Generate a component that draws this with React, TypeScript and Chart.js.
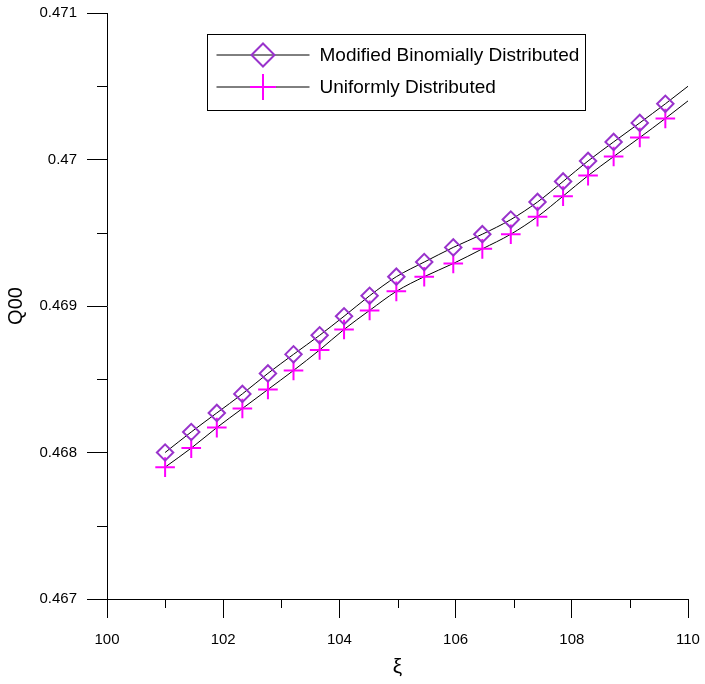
import React, { useEffect, useRef } from 'react';
import { Chart, registerables } from 'chart.js';

Chart.register(...registerables);

// ---- data ----
const xValues = [101.0, 101.45, 101.89, 102.33, 102.77, 103.21, 103.66, 104.08, 104.52, 104.98, 105.46, 105.96, 106.46, 106.95, 107.41, 107.85, 108.28, 108.72, 109.17, 109.61];
const modifiedBinomial = [0.468, 0.46814, 0.46827, 0.4684, 0.46854, 0.46867, 0.4688, 0.46893, 0.46907, 0.4692, 0.4693, 0.4694, 0.46949, 0.46959, 0.46971, 0.46985, 0.46999, 0.47012, 0.47025, 0.47038];
const uniform = [0.4679, 0.46803, 0.46817, 0.4683, 0.46843, 0.46856, 0.4687, 0.46884, 0.46897, 0.4691, 0.4692, 0.46929, 0.46939, 0.46949, 0.46961, 0.46975, 0.46989, 0.47002, 0.47015, 0.47028];
const xEnd = 110;
const modifiedEnd = 0.4705;
const uniformEnd = 0.4704;
const seriesLabels = ['Modified Binomially Distributed', 'Uniformly Distributed'];

const xMajorTicks = [100, 102, 104, 106, 108, 110];
const xMinorTicks = [101, 103, 105, 107, 109];
const yMajorTicks = [0.467, 0.468, 0.469, 0.47, 0.471];
const yMinorTicks = [0.4675, 0.4685, 0.4695, 0.4705];
const yTickLabels = ['0.467', '0.468', '0.469', '0.47', '0.471'];
const xTitle = 'ξ';
const yTitle = 'Q00';

// ---- styles ----
const FONT = '"Liberation Sans", Arial, sans-serif';
const DIAMOND_COLOR = '#9933CC';
const CROSS_COLOR = '#FF00FF';

const buildSeries = (ys: number[], end: number) =>
  xValues.map((x, i) => ({ x, y: ys[i] })).concat([{ x: xEnd, y: end }]);

const markerRadius = (r: number) => (ctx: any) => (ctx.dataIndex < xValues.length ? r : 0);

const zeroPadding = (s: any) => {
  s.paddingLeft = 0;
  s.paddingRight = 0;
  s.paddingTop = 0;
  s.paddingBottom = 0;
};

const overlayPlugin = {
  id: 'overlay',
  afterDraw(chart: any) {
    const ctx = chart.ctx as CanvasRenderingContext2D;
    const xs = chart.scales.x;
    const ys = chart.scales.y;
    ctx.save();
    // minor ticks
    ctx.strokeStyle = '#000';
    ctx.lineWidth = 1;
    ctx.beginPath();
    xMinorTicks.forEach((v) => {
      const px = Math.round(xs.getPixelForValue(v)) + 0.5;
      ctx.moveTo(px, xs.top);
      ctx.lineTo(px, xs.top + 9);
    });
    yMinorTicks.forEach((v) => {
      const py = Math.round(ys.getPixelForValue(v)) + 0.5;
      ctx.moveTo(ys.right, py);
      ctx.lineTo(ys.right - 10, py);
    });
    ctx.stroke();

    // legend
    const bl = 207.5;
    const bt = 34.5;
    const bw = 378;
    const bh = 76;
    ctx.strokeStyle = '#000';
    ctx.lineWidth = 1;
    ctx.strokeRect(bl, bt, bw, bh);
    const rows = [bt + 20.5, bt + 52.5];
    const lx0 = bl + 9;
    const lx1 = bl + 102;
    const mx = bl + 55.5;
    rows.forEach((ry, i) => {
      ctx.strokeStyle = '#000';
      ctx.lineWidth = 1;
      ctx.beginPath();
      ctx.moveTo(lx0, ry);
      ctx.lineTo(lx1, ry);
      ctx.stroke();
      ctx.lineWidth = 2;
      ctx.beginPath();
      if (i === 0) {
        const r = 11.5;
        ctx.strokeStyle = DIAMOND_COLOR;
        ctx.moveTo(mx - r, ry);
        ctx.lineTo(mx, ry - r);
        ctx.lineTo(mx + r, ry);
        ctx.lineTo(mx, ry + r);
        ctx.closePath();
      } else {
        const r = 13;
        ctx.strokeStyle = CROSS_COLOR;
        ctx.moveTo(mx - r, ry);
        ctx.lineTo(mx + r, ry);
        ctx.moveTo(mx, ry - r);
        ctx.lineTo(mx, ry + r);
      }
      ctx.stroke();
      ctx.fillStyle = '#000';
      ctx.font = `19px ${FONT}`;
      ctx.textBaseline = 'middle';
      ctx.textAlign = 'left';
      ctx.fillText(seriesLabels[i], bl + 112, ry + 1);
    });
    ctx.restore();
  },
};

export default function App() {
  const canvasRef = useRef<HTMLCanvasElement | null>(null);

  useEffect(() => {
    if (!canvasRef.current) return;
    Chart.defaults.font.family = FONT;
    const chart = new Chart(canvasRef.current, {
      type: 'line',
      data: {
        datasets: [
          {
            label: seriesLabels[0],
            data: buildSeries(modifiedBinomial, modifiedEnd),
            borderColor: '#000',
            borderWidth: 1,
            cubicInterpolationMode: 'monotone',
            pointStyle: 'rectRot',
            pointRadius: markerRadius(8.2),
            pointBorderColor: DIAMOND_COLOR,
            pointBackgroundColor: 'rgba(0,0,0,0)',
            pointBorderWidth: 2,
            fill: false,
          },
          {
            label: seriesLabels[1],
            data: buildSeries(uniform, uniformEnd),
            borderColor: '#000',
            borderWidth: 1,
            cubicInterpolationMode: 'monotone',
            pointStyle: 'cross',
            pointRadius: markerRadius(9.8),
            pointBorderColor: CROSS_COLOR,
            pointBackgroundColor: CROSS_COLOR,
            pointBorderWidth: 2,
            fill: false,
          },
        ],
      },
      options: {
        animation: false,
        responsive: true,
        maintainAspectRatio: false,
        layout: { padding: { left: 0, right: 17, top: 13, bottom: 0 } },
        plugins: {
          legend: { display: false },
          tooltip: { enabled: false },
        },
        scales: {
          x: {
            type: 'linear',
            min: 100,
            max: 110,
            afterFit: (s: any) => {
              s.height = 85;
              zeroPadding(s);
            },
            afterBuildTicks: (s: any) => {
              s.ticks = xMajorTicks.map((v) => ({ value: v }));
            },
            grid: {
              drawOnChartArea: false,
              drawTicks: true,
              tickLength: 19,
              tickColor: '#000',
              tickWidth: 1,
            },
            border: { display: true, color: '#000', width: 1 },
            ticks: {
              padding: 13,
              color: '#000',
              font: { size: 15 },
              maxRotation: 0,
              callback: (v: any) => String(v),
            },
            title: {
              display: true,
              text: xTitle,
              color: '#000',
              font: { size: 21 },
              padding: { top: 4, bottom: 4 },
            },
          },
          y: {
            type: 'linear',
            min: 0.467,
            max: 0.471,
            afterFit: (s: any) => {
              s.width = 107;
              zeroPadding(s);
            },
            afterBuildTicks: (s: any) => {
              s.ticks = yMajorTicks.map((v) => ({ value: v }));
            },
            grid: {
              drawOnChartArea: false,
              drawTicks: true,
              tickLength: 20,
              tickColor: '#000',
              tickWidth: 1,
            },
            border: { display: true, color: '#000', width: 1 },
            ticks: {
              padding: 10,
              color: '#000',
              font: { size: 15 },
              callback: (_v: any, i: number) => yTickLabels[i],
            },
            title: {
              display: true,
              text: yTitle,
              color: '#000',
              font: { size: 20 },
              padding: { top: 4, bottom: 4 },
            },
          },
        },
      },
      plugins: [overlayPlugin],
    } as any);
    return () => chart.destroy();
  }, []);

  return (
    <div style={{ position: 'absolute', left: 0, top: 0, width: 705, height: 684, background: '#fff' }}>
      <canvas ref={canvasRef} />
    </div>
  );
}
